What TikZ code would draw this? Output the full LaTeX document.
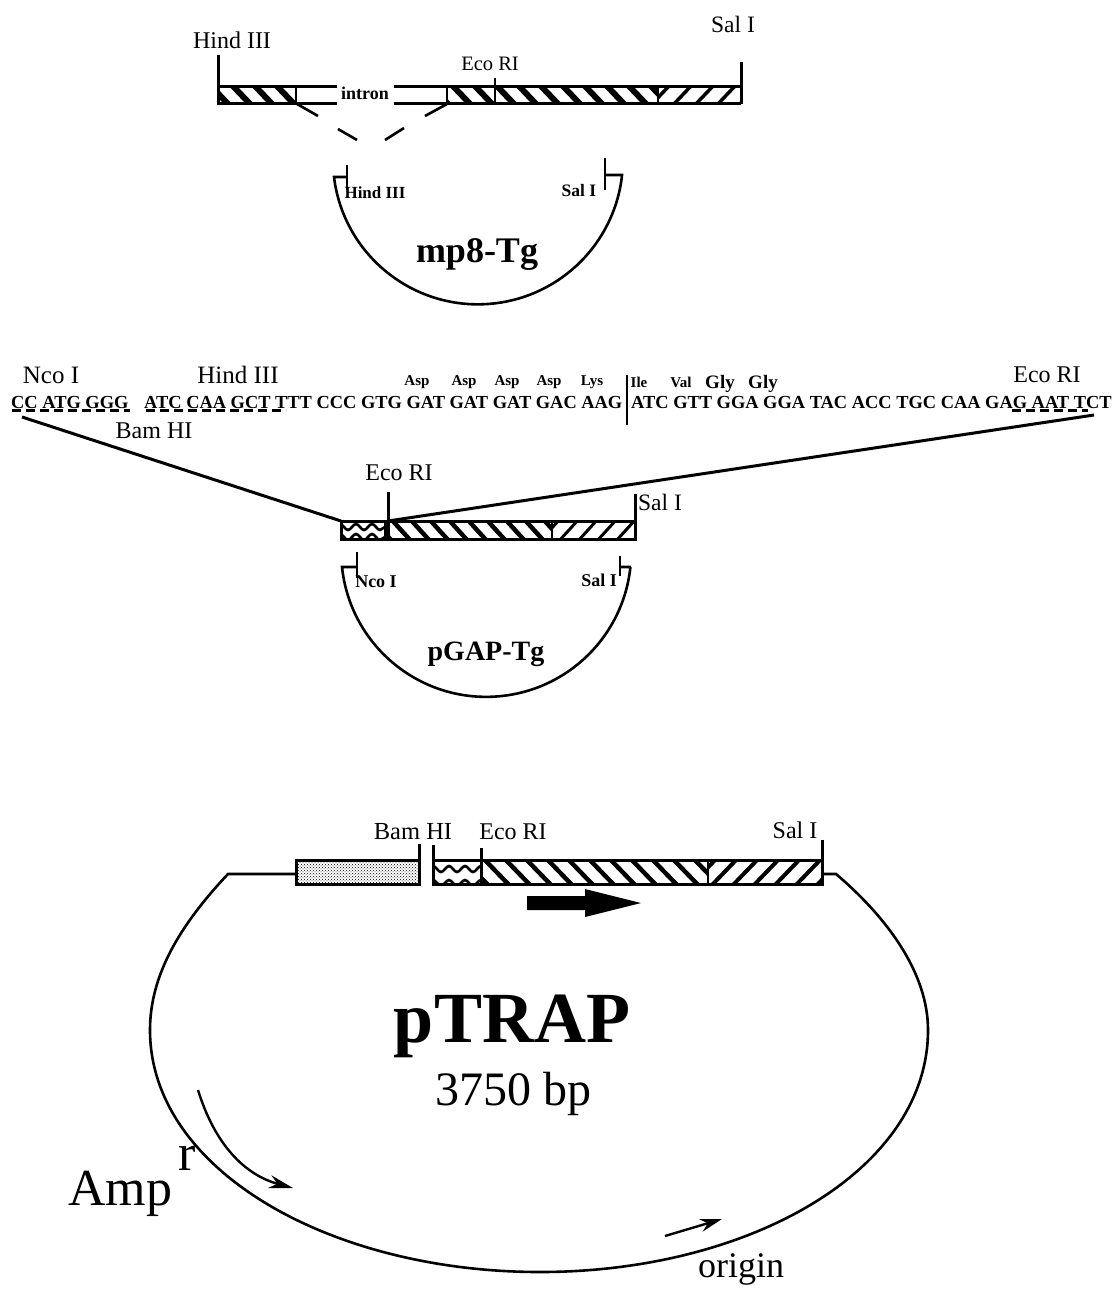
\documentclass[tikz,border=0pt]{standalone}
\usepackage{fontspec}
\setmainfont{Liberation Serif}
\usetikzlibrary{arrows.meta,patterns,decorations.pathmorphing}
\tikzset{
  lab/.style={inner sep=0pt,font=\fontsize{#1}{#1}\selectfont},
  blab/.style={inner sep=0pt,font=\fontsize{#1}{#1}\selectfont\bfseries},
  barline/.style={line width=3pt},
  hatchline/.style={line width=#1,line cap=butt},
  wave/.style={line width=2.6pt,decorate,decoration={snake,amplitude=3pt,segment length=16pt}},
  siteline/.style={line width=3pt,dash pattern=on 9pt off 5pt},
  plasmid/.style={line width=2.6pt}
}
\begin{document}
\begin{tikzpicture}[x=1pt,y=-1pt]
  \useasboundingbox (0,0) rectangle (1118,1295);

  % top insert
  \begin{scope}
    \clip (218,87) rectangle (296,104);
    \foreach \x in {210,232,...,310} \draw[hatchline=6pt] (\x,85) -- (\x+20,106);
  \end{scope}
  \begin{scope}
    \clip (447,87) rectangle (658,104);
    \foreach \x in {430,452,...,660} \draw[hatchline=6pt] (\x,85) -- (\x+20,106);
  \end{scope}
  \begin{scope}
    \clip (658,87) rectangle (741,104);
    \foreach \x in {650,672,...,760} \draw[hatchline=3.5pt] (\x,106) -- (\x+20,85);
  \end{scope}
  \draw[barline] (218,55) -- (218,104) -- (337,104);
  \draw[barline] (218,87) -- (337,87);
  \draw[barline] (394,87) -- (741,87);
  \draw[barline] (394,104) -- (741,104);
  \draw[barline] (741,62) -- (741,104);
  \draw[line width=2pt] (296,87) -- (296,104);
  \draw[line width=2pt] (447,87) -- (447,104);
  \draw[line width=2pt] (495,78) -- (495,104);
  \draw[line width=2pt] (658,87) -- (658,104);
  \draw[line width=2.6pt] (297,104) -- (318,116) (338,129) -- (357,140);
  \draw[line width=2.6pt] (447,104) -- (425,116) (404,128) -- (385,140);
  \node[lab=24] (hind1) at (232,40) {Hind III};
  \node[lab=23.5] (sal1) at (733,24) {Sal I};
  \node[lab=20.5] (eco1) at (490,64) {Eco RI};
  \node[blab=18] (intron) at (365,93) {intron};

  % mp8-Tg
  \draw[plasmid] (347,177) -- (334,177) arc[start angle=187,end angle=353,radius=145pt] -- (622,175) -- (605,175);
  \draw[line width=1.8pt] (347,165) -- (347,190);
  \draw[line width=1.8pt] (605,158) -- (605,190);
  \node[blab=17] (hind2) at (375,193) {Hind III};
  \node[blab=17.5] (sal2) at (579,191) {Sal I};
  \node[blab=36] (mp8) at (477,255) {mp8-Tg};

  % sequence
  \node[blab=18.4,anchor=base west] (seqa) at (11,408) {CC ATG GGG};
  \node[blab=18.4,anchor=base west] (seqb) at (144,408) {ATC CAA GCT TTT CCC GTG GAT GAT GAT GAC AAG};
  \node[blab=18.4,anchor=base west] (seqc) at (631,408) {ATC GTT GGA GGA TAC ACC TGC CAA GAG AAT TCT};
  \draw[siteline] (12,410) -- (130,410);
  \draw[siteline] (146,410) -- (286,410);
  \draw[siteline] (1012,410) -- (1088,410);
  \node[lab=25] (nco3) at (51,375) {Nco I};
  \node[lab=25] (hind3) at (238,375) {Hind III};
  \node[lab=24] (bam3) at (154,431) {Bam HI};
  \node[lab=24] (eco3) at (1047,375) {Eco RI};
  \foreach \x/\t [count=\i] in {417/Asp,464/Asp,507/Asp,549/Asp,592/Lys,639/Ile,681/Val}
    \node[blab=15] (aa\i) at (\x,382) {\t};
  \node[blab=19] (aa8) at (720,384) {Gly};
  \node[blab=19] (aa9) at (763,384) {Gly};
  \draw[line width=2.2pt] (627,375) -- (627,425);

  % pGAP insert
  \begin{scope}
    \clip (341,521) rectangle (385,539);
    \draw[wave] (335,527) -- (392,527);
    \draw[wave] (335,537) -- (392,537);
  \end{scope}
  \begin{scope}
    \clip (388,521) rectangle (552,539);
    \foreach \x in {372,391,...,560} \draw[hatchline=4.5pt] (\x,519) -- (\x+20,541);
  \end{scope}
  \begin{scope}
    \clip (552,521) rectangle (635,539);
    \foreach \x in {540,559,...,640} \draw[hatchline=3pt] (\x,541) -- (\x+20,519);
  \end{scope}
  \draw[barline] (341,521) rectangle (385,539);
  \draw[barline] (388,521) rectangle (635,539);
  \draw[line width=2pt] (552,521) -- (552,539);
  \draw[barline] (388,492) -- (388,521);
  \draw[barline] (635,494) -- (635,521);
  \node[lab=24] (eco4) at (399,473) {Eco RI};
  \node[lab=23.5] (sal4) at (660,502) {Sal I};

  % lines from sequence to insert
  \coordinate (seqleft) at (22,417);
  \coordinate (seqright) at (1094,415);
  \coordinate (barleft) at (341,521);
  \coordinate (barright) at (388,521);
  \draw[line width=3pt] (seqleft) -- (barleft);
  \draw[line width=3pt] (seqright) -- (barright);

  % pGAP-Tg
  \draw[plasmid] (357,567) -- (342,567) arc[start angle=186,end angle=354,radius=145pt] -- (631,567) -- (620,567);
  \draw[line width=1.8pt] (357,552) -- (357,578);
  \draw[line width=1.8pt] (620,556) -- (620,576);
  \node[blab=18] (nco5) at (376,582) {Nco I};
  \node[blab=18] (sal5) at (599,580) {Sal I};
  \node[blab=28] (pgap) at (486,654) {pGAP-Tg};

  % pTRAP insert
  \fill[pattern=crosshatch dots] (296,860) rectangle (419,884);
  \draw[barline] (296,860) rectangle (419,884);
  \begin{scope}
    \clip (433,860) rectangle (481,884);
    \draw[wave] (428,869) -- (488,869);
    \draw[wave] (428,883) -- (488,883);
  \end{scope}
  \begin{scope}
    \clip (481,860) rectangle (708,884);
    \foreach \x in {462,483,...,715} \draw[hatchline=4.5pt] (\x,858) -- (\x+27,886);
  \end{scope}
  \begin{scope}
    \clip (708,860) rectangle (822,884);
    \foreach \x in {690,711,...,830} \draw[hatchline=4pt] (\x,886) -- (\x+27,858);
  \end{scope}
  \draw[barline] (433,860) rectangle (822,884);
  \draw[line width=2pt] (708,860) -- (708,884);
  \draw[barline] (419,844) -- (419,860);
  \draw[barline] (433,845) -- (433,860);
  \draw[barline] (481,848) -- (481,884);
  \draw[barline] (822,840) -- (822,860);
  \node[lab=24.5] (bam6) at (413,832) {Bam HI};
  \node[lab=24] (eco6) at (513,832) {Eco RI};
  \node[lab=24] (sal6) at (795,830) {Sal I};
  \fill (527,896) -- (585,896) -- (585,889) -- (641,903) -- (585,917) -- (585,910) -- (527,910) -- cycle;

  % pTRAP backbone
  \draw[plasmid] (296,874) -- (228,874) .. controls (180,925) and (150,975) .. (150,1030)
    .. controls (150,1170) and (330,1272) .. (540,1272)
    .. controls (750,1272) and (928,1170) .. (928,1030)
    .. controls (928,975) and (890,920) .. (836,874) -- (822,874);
  \node[blab=72] (ptrap) at (512,1026) {pTRAP};
  \node[lab=48] (bp) at (513,1094) {3750 bp};

  % markers
  \draw[line width=2.4pt,-{Stealth[length=24pt,width=13pt]}] (198,1090) .. controls (215,1145) and (245,1175) .. (293,1188);
  \draw[line width=2.4pt,-{Stealth[length=22pt,width=13pt]}] (665,1236) -- (722,1219);
  \node[lab=52,anchor=base west] (amp) at (68,1205) {Amp};
  \node[lab=52,anchor=base west] (ampr) at (178,1170) {r};
  \node[lab=36] (origin) at (741,1269) {origin};
\end{tikzpicture}
\end{document}
